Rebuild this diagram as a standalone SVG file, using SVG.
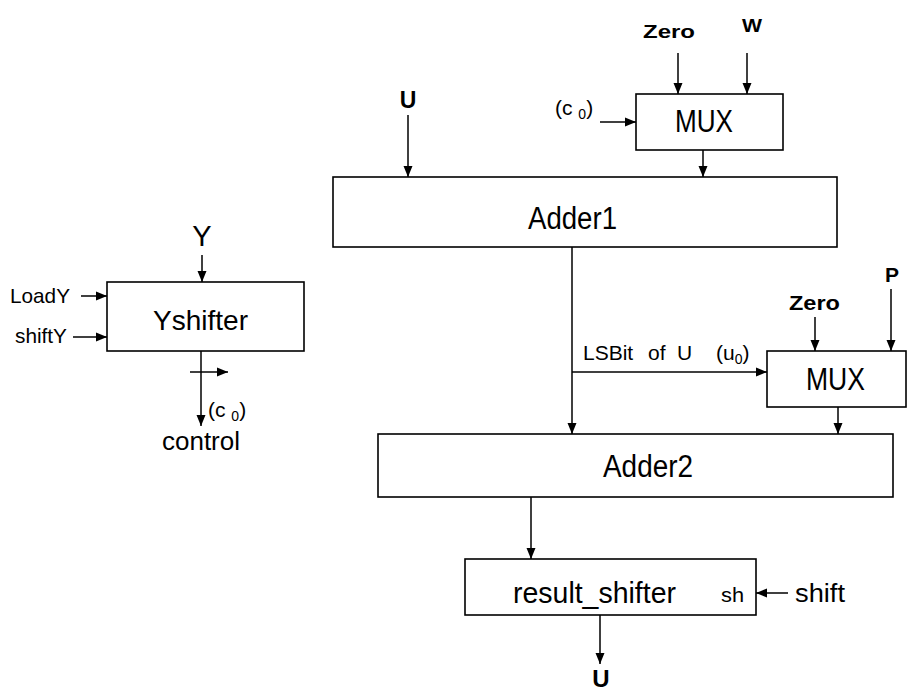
<svg xmlns="http://www.w3.org/2000/svg" width="908" height="693" viewBox="0 0 908 693">
<style>
.box{fill:#fff;stroke:#000;stroke-width:1.6}
.ln{fill:none;stroke:#000;stroke-width:1.5}
.arr{marker-end:url(#ah)}
text{font-family:"Liberation Sans",Arial,sans-serif;fill:#000}
.b{font-weight:bold}
</style>
<defs>
<marker id="ah" markerUnits="userSpaceOnUse" markerWidth="12" markerHeight="10" refX="11" refY="5" orient="auto">
<path d="M0,0.5 L11,5 L0,9.5 Z" fill="#000"/>
</marker>
</defs>
<rect width="908" height="693" fill="#fff"/>
<g id="connectors">
<line class="ln arr" x1="678" y1="53" x2="678" y2="94"/>
<line class="ln arr" x1="747" y1="53" x2="747" y2="94"/>
<line class="ln arr" x1="600" y1="122" x2="636" y2="122"/>
<line class="ln arr" x1="703" y1="150" x2="703" y2="177"/>
<line class="ln arr" x1="408" y1="115" x2="408" y2="177"/>
<line class="ln arr" x1="572" y1="247" x2="572" y2="434"/>
<line class="ln arr" x1="572" y1="372" x2="767" y2="372"/>
<line class="ln arr" x1="815" y1="317" x2="815" y2="351"/>
<line class="ln arr" x1="891" y1="289" x2="891" y2="351"/>
<line class="ln arr" x1="838" y1="407" x2="838" y2="434"/>
<line class="ln arr" x1="531" y1="497" x2="531" y2="559"/>
<line class="ln arr" x1="788" y1="593" x2="756" y2="593"/>
<line class="ln arr" x1="600" y1="615" x2="600" y2="664"/>
<line class="ln arr" x1="202" y1="255" x2="202" y2="282"/>
<line class="ln arr" x1="81" y1="296" x2="107" y2="296"/>
<line class="ln arr" x1="73" y1="337" x2="107" y2="337"/>
<line class="ln arr" x1="201" y1="351" x2="201" y2="426"/>
<line class="ln arr" x1="190" y1="372" x2="228" y2="372"/>
</g>
<g id="mux1">
<rect class="box" x="636" y="94" width="147" height="56"/>
<text x="675" y="132" font-size="31" textLength="58" lengthAdjust="spacingAndGlyphs">MUX</text>
</g>
<g id="adder1">
<rect class="box" x="333" y="177" width="504" height="70"/>
<text x="528" y="229" font-size="31" textLength="89" lengthAdjust="spacingAndGlyphs">Adder1</text>
</g>
<g id="mux2">
<rect class="box" x="767" y="351" width="139" height="56"/>
<text x="806" y="390" font-size="31" textLength="59" lengthAdjust="spacingAndGlyphs">MUX</text>
</g>
<g id="adder2">
<rect class="box" x="378" y="434" width="515" height="63"/>
<text x="603" y="477" font-size="31" textLength="90" lengthAdjust="spacingAndGlyphs">Adder2</text>
</g>
<g id="result_shifter">
<rect class="box" x="465" y="559" width="291" height="56"/>
<text x="513" y="603" font-size="30" textLength="163" lengthAdjust="spacingAndGlyphs">result_shifter</text>
<text x="721" y="602" font-size="20" textLength="23" lengthAdjust="spacingAndGlyphs">sh</text>
</g>
<g id="yshifter">
<rect class="box" x="107" y="282" width="197" height="69"/>
<text x="153" y="330" font-size="28" textLength="95" lengthAdjust="spacingAndGlyphs">Yshifter</text>
</g>
<g id="labels">
<text class="b" x="643" y="38" font-size="19" textLength="52" lengthAdjust="spacingAndGlyphs">Zero</text>
<text class="b" x="742" y="32" font-size="19" textLength="20" lengthAdjust="spacingAndGlyphs">W</text>
<text x="555" y="115" font-size="21">(c <tspan font-size="14" dy="4">0</tspan><tspan dy="-4">)</tspan></text>
<text class="b" x="408" y="108" font-size="23" text-anchor="middle">U</text>
<text class="b" x="789" y="310" font-size="21" textLength="51" lengthAdjust="spacingAndGlyphs">Zero</text>
<text class="b" x="885" y="282" font-size="21">P</text>
<text x="583" y="360" font-size="21">LSBit<tspan x="648">of</tspan><tspan x="677">U</tspan><tspan x="716">(u</tspan><tspan font-size="14" dy="4">0</tspan><tspan dy="-4">)</tspan></text>
<text x="795" y="602" font-size="26" textLength="50" lengthAdjust="spacingAndGlyphs">shift</text>
<text class="b" x="601" y="687" font-size="24" text-anchor="middle">U</text>
<text x="202" y="246" font-size="29" text-anchor="middle">Y</text>
<text x="10" y="303" font-size="21" textLength="60" lengthAdjust="spacingAndGlyphs">LoadY</text>
<text x="15" y="343" font-size="21" textLength="52" lengthAdjust="spacingAndGlyphs">shiftY</text>
<text x="208" y="417" font-size="21">(c <tspan font-size="14" dy="4">0</tspan><tspan dy="-4">)</tspan></text>
<text x="162" y="450" font-size="26" textLength="78" lengthAdjust="spacingAndGlyphs">control</text>
</g>
</svg>
